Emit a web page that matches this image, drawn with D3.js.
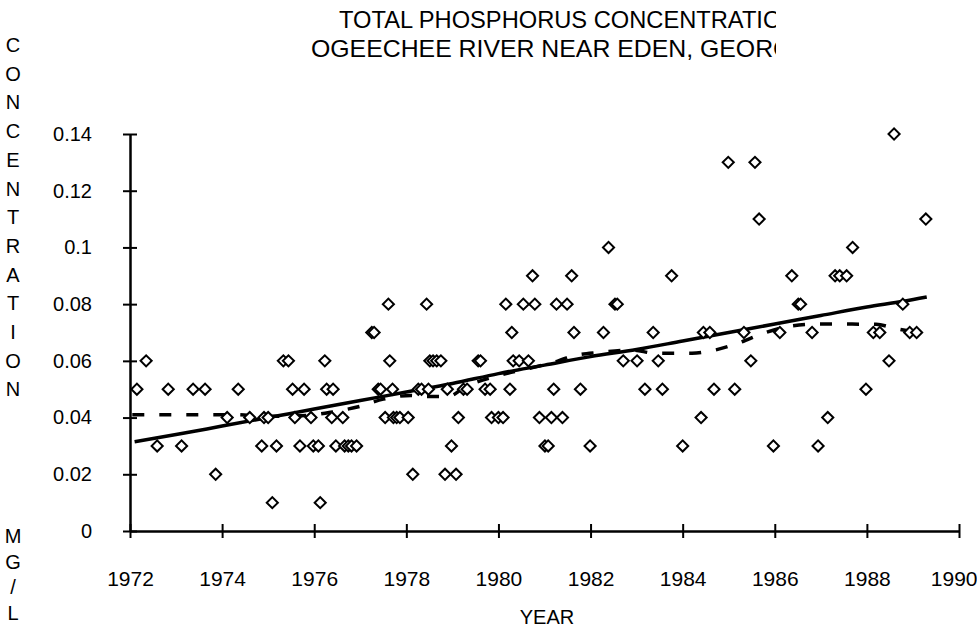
<!DOCTYPE html>
<html>
<head>
<meta charset="utf-8">
<script src="https://cdn.jsdelivr.net/npm/d3@7"></script>
<style>
  body { margin: 0; background: #fff; }
  svg text { font-family: "Liberation Sans", Arial, sans-serif; fill: #000; }
</style>
</head>
<body>
<div id="chart"></div>
<script>
// sample dates (decimal year) and total phosphorus, mg/L
const sampleYears = [1972.15, 1972.35, 1972.59, 1972.83, 1973.12, 1973.37, 1973.63, 1973.86, 1974.11, 1974.35,
  1974.6, 1974.86, 1974.91, 1975.0, 1975.09, 1975.18, 1975.33, 1975.44, 1975.53, 1975.58,
  1975.69, 1975.78, 1975.93, 1975.98, 1976.09, 1976.13, 1976.23, 1976.27, 1976.38, 1976.41,
  1976.47, 1976.62, 1976.66, 1976.74, 1976.81, 1976.92, 1977.25, 1977.3, 1977.39, 1977.44,
  1977.54, 1977.61, 1977.64, 1977.7, 1977.72, 1977.79, 1977.86, 1978.04, 1978.14, 1978.26,
  1978.33, 1978.44, 1978.48, 1978.51, 1978.58, 1978.66, 1978.75, 1978.84, 1978.89, 1978.98,
  1979.08, 1979.13, 1979.24, 1979.32, 1979.56, 1979.61, 1979.71, 1979.82, 1979.85, 1980.0,
  1980.1, 1980.16, 1980.25, 1980.29, 1980.32, 1980.45, 1980.54, 1980.65, 1980.74, 1980.79,
  1980.89, 1981.01, 1981.08, 1981.15, 1981.2, 1981.26, 1981.39, 1981.49, 1981.59, 1981.64,
  1981.78, 1981.99, 1982.28, 1982.39, 1982.53, 1982.58, 1982.71, 1983.01, 1983.18, 1983.36,
  1983.47, 1983.56, 1983.76, 1984.0, 1984.4, 1984.45, 1984.59, 1984.68, 1984.99, 1985.13,
  1985.33, 1985.48, 1985.57, 1985.66, 1985.97, 1986.11, 1986.37, 1986.51, 1986.56, 1986.81,
  1986.94, 1987.15, 1987.31, 1987.41, 1987.56, 1987.69, 1987.98, 1988.14, 1988.28, 1988.48,
  1988.59, 1988.78, 1988.93, 1989.08, 1989.28]
const sampleConc = [0.05, 0.06, 0.03, 0.05, 0.03, 0.05, 0.05, 0.02, 0.04, 0.05,
  0.04, 0.03, 0.04, 0.04, 0.01, 0.03, 0.06, 0.06, 0.05, 0.04,
  0.03, 0.05, 0.04, 0.03, 0.03, 0.01, 0.06, 0.05, 0.04, 0.05,
  0.03, 0.04, 0.03, 0.03, 0.03, 0.03, 0.07, 0.07, 0.05, 0.05,
  0.04, 0.08, 0.06, 0.05, 0.04, 0.04, 0.04, 0.04, 0.02, 0.05,
  0.05, 0.08, 0.05, 0.06, 0.06, 0.06, 0.06, 0.02, 0.05, 0.03,
  0.02, 0.04, 0.05, 0.05, 0.06, 0.06, 0.05, 0.05, 0.04, 0.04,
  0.04, 0.08, 0.05, 0.07, 0.06, 0.06, 0.08, 0.06, 0.09, 0.08,
  0.04, 0.03, 0.03, 0.04, 0.05, 0.08, 0.04, 0.08, 0.09, 0.07,
  0.05, 0.03, 0.07, 0.10, 0.08, 0.08, 0.06, 0.06, 0.05, 0.07,
  0.06, 0.05, 0.09, 0.03, 0.04, 0.07, 0.07, 0.05, 0.13, 0.05,
  0.07, 0.06, 0.13, 0.11, 0.03, 0.07, 0.09, 0.08, 0.08, 0.07,
  0.03, 0.04, 0.09, 0.09, 0.09, 0.10, 0.05, 0.07, 0.07, 0.06,
  0.14, 0.08, 0.07, 0.07, 0.11]

// trend line (solid)
const trendYears = [1972.1, 1973, 1974, 1975, 1976, 1977, 1978, 1979, 1980, 1981, 1982, 1983, 1984, 1985, 1986, 1987, 1988, 1988.8, 1989.3]
const trendConc = [0.0315, 0.034, 0.037, 0.040, 0.043, 0.046, 0.049, 0.052, 0.0555, 0.0585, 0.0615, 0.064, 0.067, 0.070, 0.073, 0.076, 0.079, 0.081, 0.0825]

// smoothed line (dashed)
const smoothYears = [1972.05, 1974.3, 1974.9, 1975.4, 1976.0, 1976.4, 1977.0, 1977.5, 1978.1, 1978.4, 1978.9, 1979.3, 1980.0, 1980.7, 1981.3, 1981.6, 1982.2, 1982.9, 1983.4, 1984.2, 1984.7, 1985.2, 1985.8, 1986.4, 1987.0, 1988.2, 1988.6, 1989.1]
const smoothConc = [0.041, 0.041, 0.0405, 0.0405, 0.041, 0.042, 0.044, 0.0465, 0.0478, 0.0474, 0.0474, 0.051, 0.0548, 0.0575, 0.060, 0.0617, 0.063, 0.0638, 0.0627, 0.0627, 0.0638, 0.0662, 0.070, 0.0724, 0.073, 0.0729, 0.0715, 0.070]

const xTicks = [1972, 1974, 1976, 1978, 1980, 1982, 1984, 1986, 1988, 1990]
const yTicks = [0, 0.02, 0.04, 0.06, 0.08, 0.1, 0.12, 0.14]
const titleLines = ["TOTAL PHOSPHORUS CONCENTRATION", "OGEECHEE RIVER NEAR EDEN, GEORGIA"]
const yTitleTop = "CONCENTRATION"
const yTitleBottom = "MG/L"
const xTitle = "YEAR"

const width = 977
const height = 628

let svg = d3.select("#chart")
            .append("svg")
            .attr("width", width)
            .attr("height", height)

let x = d3.scaleLinear().domain([1972, 1990]).range([130, 959])
let y = d3.scaleLinear().domain([0, 0.14]).range([531, 134])

// title, cut off on the right as in the original
svg.append("clipPath")
   .attr("id", "titleClip")
   .append("rect")
   .attr("x", 0).attr("y", 0)
   .attr("width", 776).attr("height", 80)

let title = svg.append("g").attr("clip-path", "url(#titleClip)")
title.append("text")
     .attr("transform", "translate(339,28) scale(1.03,1)")
     .style("font-size", "23px")
     .text(titleLines[0])
title.append("text")
     .attr("transform", "translate(311,57) scale(1.08,1)")
     .style("font-size", "23px")
     .text(titleLines[1])

// y axis
let yAxis = d3.axisLeft(y)
              .tickValues(yTicks)
              .tickFormat(d => d3.format("~g")(d))
              .tickSizeInner(7)
              .tickSizeOuter(0)
              .tickPadding(31)

let gy = svg.append("g")
            .attr("transform", "translate(130,0)")
            .call(yAxis)
gy.select(".domain").attr("stroke-width", 2.5)
gy.selectAll(".tick line").attr("x1", 7).attr("stroke-width", 2)
gy.selectAll(".tick text")
  .style("font-size", "20px")
  .style("font-family", "'Liberation Sans', Arial, sans-serif")

// x axis
let xAxis = d3.axisBottom(x)
              .tickValues(xTicks)
              .tickFormat(d3.format("d"))
              .tickSizeInner(7)
              .tickSizeOuter(0)
              .tickPadding(33)

let gx = svg.append("g")
            .attr("transform", "translate(0,531)")
            .call(xAxis)
gx.select(".domain").attr("stroke-width", 2.5)
gx.selectAll(".tick line").attr("y1", -7).attr("stroke-width", 2)
gx.selectAll(".tick text")
  .style("font-size", "21px")
  .style("font-family", "'Liberation Sans', Arial, sans-serif")
// last label kept inside the picture
gx.selectAll(".tick text")
  .filter(d => d === 1990)
  .attr("text-anchor", "end")
  .attr("x", 18)

// axis titles
svg.append("text")
   .attr("x", 547).attr("y", 624)
   .attr("text-anchor", "middle")
   .style("font-size", "20px")
   .text(xTitle)

svg.append("g")
   .selectAll("text")
   .data(yTitleTop.split(""))
   .enter()
   .append("text")
   .attr("x", 13)
   .attr("y", (d, i) => 52 + i * 28.7)
   .attr("text-anchor", "middle")
   .style("font-size", "20px")
   .text(d => d)

svg.append("g")
   .selectAll("text")
   .data(yTitleBottom.split(""))
   .enter()
   .append("text")
   .attr("x", 13)
   .attr("y", (d, i) => 543 + i * 25.7)
   .attr("text-anchor", "middle")
   .style("font-size", "20px")
   .text(d => d)

// lines
let line = d3.line()
             .x(d => x(d[0]))
             .y(d => y(d[1]))
             .curve(d3.curveMonotoneX)

svg.append("path")
   .datum(trendYears.map((t, i) => [t, trendConc[i]]))
   .attr("d", line)
   .attr("fill", "none")
   .attr("stroke", "#000")
   .attr("stroke-width", 3.5)

svg.append("path")
   .datum(smoothYears.map((t, i) => [t, smoothConc[i]]))
   .attr("d", line)
   .attr("fill", "none")
   .attr("stroke", "#000")
   .attr("stroke-width", 3.5)
   .attr("stroke-dasharray", "12 15")

// sample markers
let diamond = d3.symbol().type(d3.symbolSquare).size(62)

svg.append("g")
   .selectAll("path")
   .data(sampleYears.map((t, i) => [t, sampleConc[i]]))
   .enter()
   .append("path")
   .attr("d", diamond)
   .attr("transform", d => "translate(" + x(d[0]) + "," + y(d[1]) + ") rotate(45)")
   .attr("fill", "#fff")
   .attr("stroke", "#000")
   .attr("stroke-width", 2)
</script>
</body>
</html>
